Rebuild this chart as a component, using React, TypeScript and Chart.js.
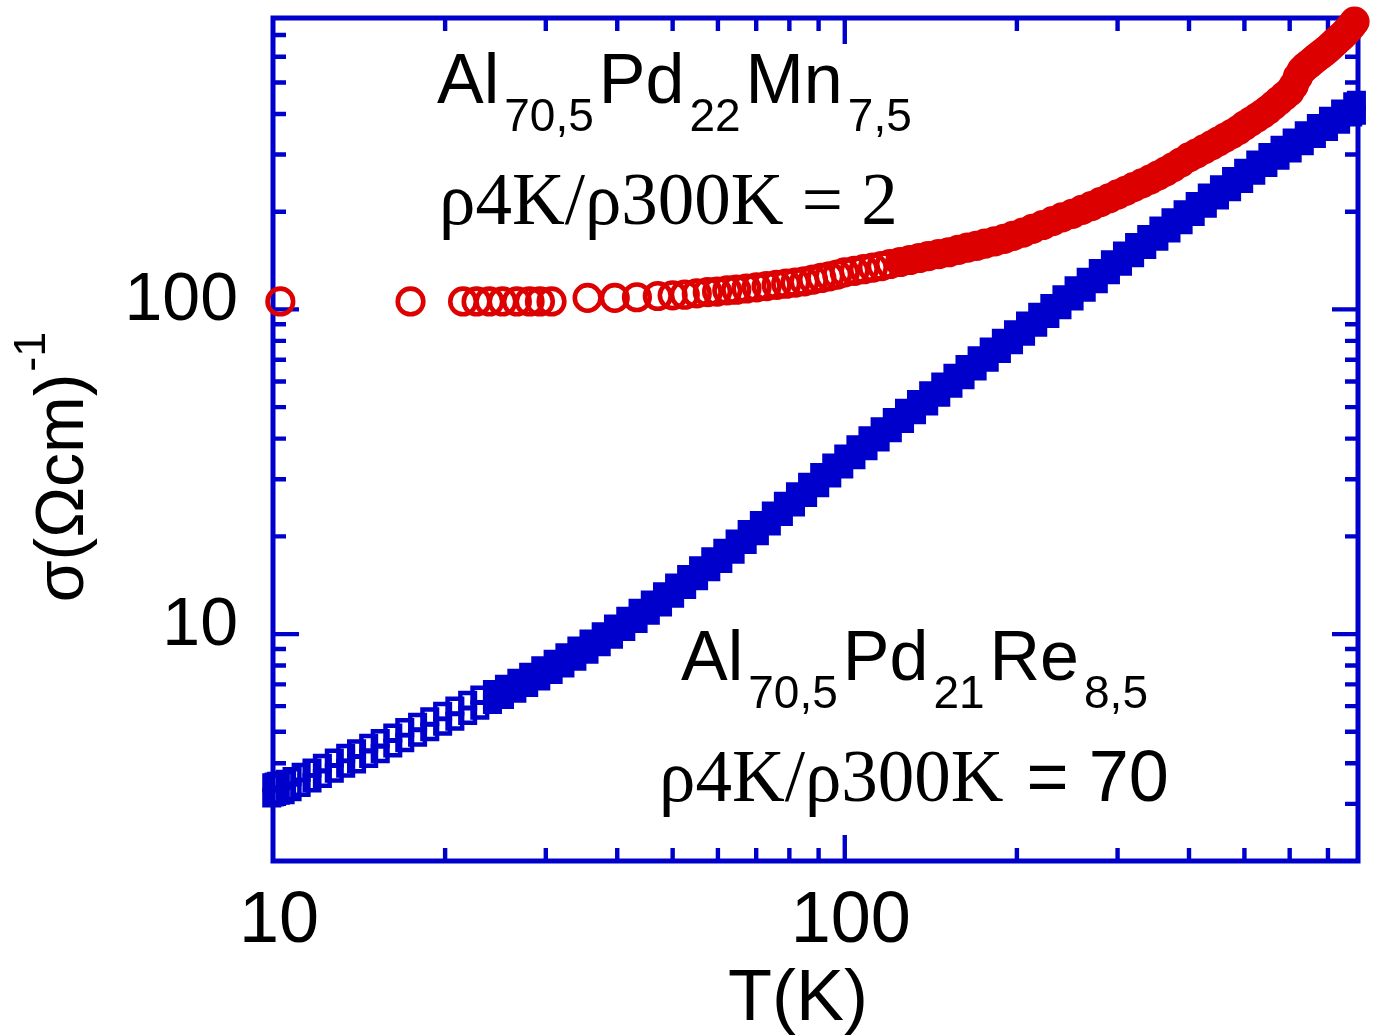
import React, { useEffect, useRef } from 'react';
import { Chart, registerables } from 'chart.js';

Chart.register(...registerables);

const BLUE = '#0000cc';
const RED = '#dd0000';
const SANS = '"Liberation Sans", Arial, sans-serif';
const SERIF = '"Liberation Serif", "Times New Roman", serif';

// axis ranges and ticks
const xRange = [10, 790];
const yRange = [2, 790];
const xTickValues = [10, 100];
const yTickValues = [10, 100];
const xMinorTicks = [20, 30, 40, 50, 60, 70, 80, 90, 200, 300, 400, 500, 600, 700];
const xMajorTicks = [100];
const yMinorTicks = [3, 4, 5, 6, 7, 8, 9, 20, 30, 40, 50, 60, 70, 80, 90, 200, 300, 400, 500, 600, 700];
const yMajorTicks = [10, 100];

// Al70.5Pd21Re8.5 (blue open squares), two interleaved runs
const blueT = [9.75, 9.85, 9.95, 10.05, 10.15, 10.3, 10.5, 10.8, 11.2, 11.7, 12.2, 12.8, 13.4, 14.0, 14.7, 15.4, 16.2, 17.0, 17.9, 18.8, 19.8, 20.8, 21.9, 23.0, 24.2, 25.4, 26.7, 28.0, 29.4, 30.9, 32.4, 34.0, 35.7, 37.5, 39.4, 41.4, 43.5, 45.7, 48.0, 50.4, 52.9, 55.5, 58.3, 61.2, 64.3, 67.5, 70.9, 74.4, 78.1, 82.0, 86.1, 90.4, 94.9, 99.6, 104.6, 109.8, 115.3, 121.1, 127.2, 133.5, 140.2, 147.2, 154.6, 162.3, 170.4, 178.9, 187.9, 197.3, 207.1, 217.5, 228.4, 239.8, 251.8, 264.4, 277.6, 291.5, 306.0, 321.3, 337.4, 354.3, 372.0, 390.6, 410.1, 430.6, 452.2, 474.8, 498.5, 523.4, 549.6, 577.1, 606.0, 636.3, 668.1, 701.5, 736.6, 773.4, 785];
const blueSigmaA = [3.44, 3.46, 3.48, 3.50, 3.52, 3.54, 3.57, 3.64, 3.75, 3.87, 4.00, 4.15, 4.29, 4.43, 4.61, 4.77, 4.96, 5.15, 5.35, 5.56, 5.78, 6.00, 6.25, 6.49, 6.75, 7.01, 7.31, 7.63, 7.98, 8.36, 8.75, 9.18, 9.65, 10.17, 10.73, 11.34, 12.01, 12.72, 13.50, 14.35, 15.26, 16.24, 17.30, 18.36, 19.62, 20.99, 22.37, 23.95, 25.64, 27.43, 29.33, 31.44, 33.65, 35.87, 38.30, 40.83, 43.47, 46.42, 49.59, 52.75, 56.13, 59.71, 63.62, 67.63, 71.95, 76.59, 81.45, 86.62, 92.10, 98.01, 104.3, 111.0, 118.2, 125.7, 133.7, 142.2, 151.2, 160.6, 170.2, 180.5, 191.4, 202.9, 215.1, 228.2, 241.9, 256.5, 271.9, 288.3, 304.5, 320.5, 337.5, 355.1, 373.8, 393.5, 414.2, 435.8, 441];
const blueSigmaB = [3.09, 3.11, 3.13, 3.15, 3.17, 3.19, 3.20, 3.27, 3.37, 3.48, 3.59, 3.73, 3.86, 3.98, 4.14, 4.28, 4.46, 4.63, 4.81, 5.00, 5.20, 5.39, 5.61, 5.83, 6.07, 6.29, 6.57, 6.85, 7.17, 7.51, 7.86, 8.25, 8.67, 9.14, 9.64, 10.19, 10.79, 11.43, 12.13, 12.89, 13.71, 14.59, 15.55, 16.50, 17.63, 18.87, 20.10, 21.52, 23.04, 24.65, 26.35, 28.25, 30.24, 32.23, 34.41, 36.69, 39.06, 41.71, 44.56, 47.40, 50.43, 53.66, 57.16, 60.77, 64.65, 68.82, 73.19, 77.83, 82.76, 88.07, 93.76, 99.73, 106.2, 112.9, 120.1, 127.8, 135.8, 144.3, 152.9, 162.2, 172.0, 182.3, 193.3, 205.1, 217.4, 230.5, 244.3, 259.1, 273.6, 288.0, 303.3, 319.1, 335.9, 353.6, 372.2, 391.6, 396.3];

// Al70.5Pd22Mn7.5 (red open circles)
const redT = [10.3, 17.4, 21.5, 22.7, 23.9, 25.2, 26.7, 28.1, 29.3, 30.7, 35.5, 39.6, 43.3, 47.1, 50.0, 52.5, 55.1, 57.6, 59.8, 62.3, 64.6, 67.3, 70.1, 73, 76, 79, 82, 85, 88, 91, 94, 97, 100, 104, 108, 112, 116, 120, 125, 130, 135, 140, 146, 152, 158, 164, 170, 176, 183, 190, 197, 205, 213, 222, 231, 240, 250, 260, 270, 280, 290, 300, 310, 320, 331, 342, 353, 364, 375, 387, 400, 412, 425, 438, 450, 462, 475, 488, 500, 512, 525, 538, 550, 562, 575, 588, 600, 610, 620, 630, 640, 650, 660, 670, 680, 690, 700, 710, 720, 730, 740, 750, 760, 770, 779];
const redSigma = [105.8, 105.8, 105.8, 105.8, 105.8, 105.8, 105.8, 105.8, 105.8, 105.8, 108.5, 108.5, 109, 110, 110.5, 111, 112, 113, 113.5, 114.5, 115, 116, 117, 118, 119, 120, 121, 122, 123.5, 125, 126.5, 128, 130, 131.5, 133, 134.5, 136, 138, 140, 142, 144, 146, 148, 150, 152.5, 155, 157, 159.5, 162, 165, 168.5, 172.5, 177, 182, 187, 192, 197, 202.5, 208, 214, 220, 226, 232, 238, 244.5, 251, 258.5, 266, 274, 283.5, 294, 302, 311, 320, 329, 337.5, 347, 357, 368, 378, 389, 400.5, 412, 425, 440, 455, 469, 490, 520, 545, 560, 572, 585, 598, 610, 622, 635, 650, 665, 680, 695, 711, 730, 750, 770];

// annotation texts: [text, isSubscript]
const formulaMn: [string, boolean][] = [['Al', false], ['70,5', true], ['Pd', false], ['22', true], ['Mn', false], ['7,5', true]];
const formulaRe: [string, boolean][] = [['Al', false], ['70,5', true], ['Pd', false], ['21', true], ['Re', false], ['8,5', true]];
const ratioMn = 'ρ4K/ρ300K = 2';
const ratioReLeft = 'ρ4K/ρ300K';
const ratioReRight = ' = 70';
const xTitle = 'T(K)';

function drawFormula(ctx: CanvasRenderingContext2D, x: number, y: number, parts: [string, boolean][]) {
  let cx = x;
  for (const [txt, sub] of parts) {
    ctx.font = sub ? `46px ${SANS}` : `70px ${SANS}`;
    ctx.fillText(txt, cx, sub ? y + 28 : y);
    cx += ctx.measureText(txt).width + 5;
  }
}

const framePlugin = {
  id: 'framePlugin',
  beforeDatasetsDraw(chart: any) {
    const { ctx, chartArea: a, scales } = chart;
    const xs = scales.x;
    const ys = scales.y;
    ctx.save();
    ctx.strokeStyle = BLUE;
    ctx.lineCap = 'butt';
    ctx.lineWidth = 4.4;
    const minor = 13;
    const major = 26;
    ctx.beginPath();
    const xt = (v: number, len: number) => {
      const p = xs.getPixelForValue(v);
      ctx.moveTo(p, a.bottom);
      ctx.lineTo(p, a.bottom - len);
      ctx.moveTo(p, a.top);
      ctx.lineTo(p, a.top + len);
    };
    const yt = (v: number, len: number) => {
      const p = ys.getPixelForValue(v);
      ctx.moveTo(a.left, p);
      ctx.lineTo(a.left + len, p);
      ctx.moveTo(a.right, p);
      ctx.lineTo(a.right - len, p);
    };
    xMinorTicks.forEach((v) => xt(v, minor));
    xMajorTicks.forEach((v) => xt(v, major));
    yMinorTicks.forEach((v) => yt(v, minor));
    yMajorTicks.forEach((v) => yt(v, major));
    ctx.stroke();
    ctx.lineWidth = 5;
    ctx.strokeRect(a.left, a.top, a.right - a.left, a.bottom - a.top);
    ctx.restore();
  },
};

const textPlugin = {
  id: 'textPlugin',
  afterDatasetsDraw(chart: any) {
    const { ctx } = chart;
    ctx.save();
    ctx.fillStyle = '#000';
    ctx.textBaseline = 'alphabetic';
    ctx.textAlign = 'left';
    // annotations
    drawFormula(ctx, 437, 103, formulaMn);
    ctx.font = `73px ${SERIF}`;
    ctx.fillText(ratioMn, 439, 224);
    drawFormula(ctx, 681, 680, formulaRe);
    ctx.font = `73px ${SERIF}`;
    ctx.fillText(ratioReLeft, 659, 801);
    const w = ctx.measureText(ratioReLeft).width;
    ctx.font = `72px ${SANS}`;
    ctx.fillText(ratioReRight, 662 + w, 801);
    // x title
    ctx.font = `72px ${SANS}`;
    ctx.textAlign = 'center';
    ctx.fillText(xTitle, 798, 1020);
    // y title (rotated)
    ctx.translate(83, 467);
    ctx.rotate(-Math.PI / 2);
    ctx.textAlign = 'left';
    const main = 'σ(Ωcm)';
    const sup = '-1';
    ctx.font = `68px ${SANS}`;
    const wm = ctx.measureText(main).width;
    ctx.font = `45px ${SANS}`;
    const ws = ctx.measureText(sup).width;
    const start = -(wm + ws + 2) / 2;
    ctx.font = `68px ${SANS}`;
    ctx.fillText(main, start, 0);
    ctx.font = `45px ${SANS}`;
    ctx.fillText(sup, start + wm + 2, -38);
    ctx.restore();
  },
};

export default function App() {
  const ref = useRef<HTMLCanvasElement | null>(null);
  useEffect(() => {
    if (!ref.current) return;
    const toPts = (xs: number[], ys: number[]) => xs.map((t, i) => ({ x: t, y: ys[i] }));
    const blueFill = (c: any) => (c.raw && c.raw.x >= 24 ? BLUE : 'rgba(0,0,0,0)');
    const redFill = (c: any) => (c.raw && c.raw.x >= 125 ? RED : 'rgba(0,0,0,0)');
    const squareStyle = {
      showLine: false,
      pointStyle: 'rect',
      pointRadius: 10.3,
      pointHoverRadius: 10.3,
      pointBorderWidth: 4.5,
      pointBorderColor: BLUE,
      pointBackgroundColor: blueFill,
      borderColor: BLUE,
      backgroundColor: BLUE,
      clip: false,
    };
    const chart = new Chart(ref.current, {
      type: 'scatter',
      data: {
        datasets: [
          { label: 'Al70,5Pd21Re8,5 A', data: toPts(blueT, blueSigmaA), ...squareStyle } as any,
          { label: 'Al70,5Pd21Re8,5 B', data: toPts(blueT, blueSigmaB), ...squareStyle } as any,
          {
            label: 'Al70,5Pd22Mn7,5',
            data: toPts(redT, redSigma),
            showLine: false,
            pointStyle: 'circle',
            pointRadius: 12.8,
            pointHoverRadius: 12.8,
            pointBorderWidth: 4.6,
            pointBorderColor: RED,
            pointBackgroundColor: redFill,
            borderColor: RED,
            backgroundColor: RED,
            clip: false,
          } as any,
        ],
      },
      options: {
        responsive: false,
        animation: false,
        devicePixelRatio: 1,
        layout: { padding: { top: 18, right: 19, left: 0, bottom: 0 } },
        plugins: { legend: { display: false }, tooltip: { enabled: false } },
        scales: {
          x: {
            type: 'logarithmic',
            position: 'bottom',
            min: xRange[0],
            max: xRange[1],
            grid: { display: false, drawTicks: false },
            border: { display: false },
            afterBuildTicks: (s: any) => {
              s.ticks = xTickValues.map((v) => ({ value: v }));
            },
            afterFit: (s: any) => {
              s.height = 175;
              s.paddingLeft = 0;
              s.paddingRight = 0;
              s.paddingTop = 0;
              s.paddingBottom = 0;
            },
            ticks: {
              autoSkip: false,
              maxRotation: 0,
              color: '#000',
              font: { family: SANS, size: 72 },
              padding: 18,
              labelOffset: 6,
              callback: (v: any) => String(v),
            },
          },
          y: {
            type: 'logarithmic',
            position: 'left',
            min: yRange[0],
            max: yRange[1],
            grid: { display: false, drawTicks: false },
            border: { display: false },
            afterBuildTicks: (s: any) => {
              s.ticks = yTickValues.map((v) => ({ value: v }));
            },
            afterFit: (s: any) => {
              s.width = 273;
              s.paddingLeft = 0;
              s.paddingRight = 0;
              s.paddingTop = 0;
              s.paddingBottom = 0;
            },
            ticks: {
              autoSkip: false,
              color: '#000',
              font: { family: SANS, size: 68 },
              padding: 35,
              labelOffset: -8,
              callback: (v: any) => String(v),
            },
          },
        },
      } as any,
      plugins: [framePlugin, textPlugin],
    });
    return () => chart.destroy();
  }, []);
  return (
    <div style={{ position: 'absolute', left: 0, top: 0, width: 1377, height: 1036, background: '#fff' }}>
      <canvas ref={ref} width={1377} height={1036} style={{ display: 'block' }} />
    </div>
  );
}
